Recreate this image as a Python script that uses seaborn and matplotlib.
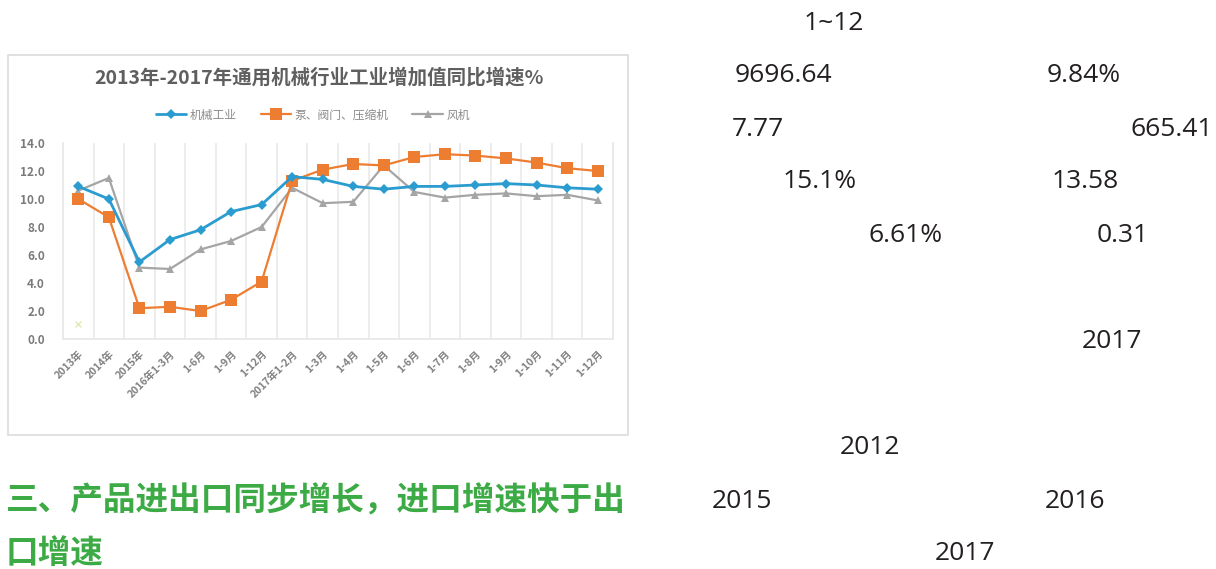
import pandas as pd
import seaborn as sns
import matplotlib.pyplot as plt
from matplotlib.patches import Rectangle

# data
periods = ['2013年', '2014年', '2015年', '2016年1-3月', '1-6月', '1-9月', '1-12月',
           '2017年1-2月', '1-3月', '1-4月', '1-5月', '1-6月', '1-7月', '1-8月',
           '1-9月', '1-10月', '1-11月', '1-12月']
machinery = [10.9, 10.0, 5.5, 7.1, 7.8, 9.1, 9.6, 11.6, 11.4, 10.9, 10.7, 10.9,
             10.9, 11.0, 11.1, 11.0, 10.8, 10.7]
pumps = [10.0, 8.7, 2.2, 2.3, 2.0, 2.8, 4.1, 11.3, 12.1, 12.5, 12.4, 13.0,
         13.2, 13.1, 12.9, 12.6, 12.2, 12.0]
fans = [10.6, 11.5, 5.1, 5.0, 6.4, 7.0, 8.0, 10.8, 9.7, 9.8, 12.4, 10.5,
        10.1, 10.3, 10.4, 10.2, 10.3, 9.9]
stray_point = [1.1]

chart_title = '2013年-2017年通用机械行业工业增加值同比增速%'
series_names = ['机械工业', '泵、阀门、压缩机', '风机']

side_texts = ['1~12', '9696.64', '9.84%', '7.77', '665.41', '15.1%', '13.58',
              '6.61%', '0.31', '2017', '2012', '2015', '2016', '2017']
side_pos = [(804, 23), (735, 76), (1047, 76), (732, 129), (1130, 129),
            (783, 182), (1052, 182), (868, 236), (1097, 236), (1082, 341),
            (840, 448), (712, 501), (1045, 501), (935, 554)]
heading = ['三、产品进出口同步增长，进口增速快于出', '口增速']

sns.set_theme(style='white')
plt.rcParams['font.family'] = ['Noto Sans CJK SC', 'DejaVu Sans']

W, H = 1216, 569
fig = plt.figure(figsize=(W / 100, H / 100), dpi=100)

def fx(px):
    return px / W

def fy(py):
    return 1 - py / H

# chart frame
fig.patches.append(Rectangle((fx(8), fy(435)), fx(628) - fx(8), fy(55) - fy(435),
                             transform=fig.transFigure, fill=False,
                             edgecolor='#dcdcdc', linewidth=1.2))

ax = fig.add_axes([fx(63), fy(339), fx(613) - fx(63), fy(143) - fy(339)])

df = pd.DataFrame({'x': range(len(periods)), 'machinery': machinery,
                   'pumps': pumps, 'fans': fans})

sns.lineplot(data=df, x='x', y='machinery', ax=ax, color='#2a9cd0', lw=2,
             marker='D', markersize=5, markeredgewidth=0, label=series_names[0], zorder=4)
sns.lineplot(data=df, x='x', y='pumps', ax=ax, color='#ed7d31', lw=1.6,
             marker='s', markersize=8, markeredgewidth=0, label=series_names[1], zorder=3)
sns.lineplot(data=df, x='x', y='fans', ax=ax, color='#a5a5a5', lw=1.6,
             marker='^', markersize=6, markeredgewidth=0, label=series_names[2], zorder=2)
ax.scatter([0], stray_point, marker='x', s=18, color='#e4e9b4', lw=1, zorder=1)

ax.set_xlim(-0.5, len(periods) - 0.5)
ax.set_ylim(0, 14)
ax.set_yticks(range(0, 15, 2))
ax.set_yticklabels([f'{v:.1f}' for v in range(0, 15, 2)])
ax.set_xticks(range(len(periods)))
ax.set_xticklabels(periods, rotation=45, ha='right', rotation_mode='anchor')
ax.set_xticks([i + 0.5 for i in range(len(periods) - 1)], minor=True)
ax.grid(which='minor', axis='x', color='#ececec', lw=1.3)
ax.grid(which='major', visible=False)
ax.set_xlabel('')
ax.set_ylabel('')
ax.tick_params(axis='both', which='both', length=0)
ax.tick_params(axis='y', pad=13, labelsize=8.5, labelcolor='#7a7a7a')
ax.tick_params(axis='x', pad=7, labelsize=7.5, labelcolor='#808080')
for lbl in ax.get_yticklabels() + ax.get_xticklabels():
    lbl.set_fontweight('bold')
for side in ['left', 'bottom', 'right']:
    ax.spines[side].set_color('#e8e8e8')
    ax.spines[side].set_linewidth(1.3)
ax.spines['top'].set_visible(False)

handles, labels = ax.get_legend_handles_labels()
ax.legend_.remove()
fig.legend(handles, labels, loc='center', bbox_to_anchor=(fx(313), fy(115)),
           ncol=3, frameon=False, fontsize=8.5, labelcolor='#8a8a8a',
           handlelength=2.6, columnspacing=2.0, handletextpad=0.3)

fig.text(fx(319), fy(78), chart_title, ha='center', va='center',
         fontsize=14, fontweight='bold', color='#5f5f5f')

for txt, (px, py) in zip(side_texts, side_pos):
    fig.text(fx(px), fy(py), txt, ha='left', va='center', fontsize=19,
             family=['Open Sans', 'DejaVu Sans'], color='#231f20')

fig.text(fx(6), fy(501), heading[0], ha='left', va='center', fontsize=23.5,
         fontweight='bold', color='#3dab45')
fig.text(fx(6), fy(554), heading[1], ha='left', va='center', fontsize=23.5,
         fontweight='bold', color='#3dab45')

fig.savefig('out.png', dpi=100)
